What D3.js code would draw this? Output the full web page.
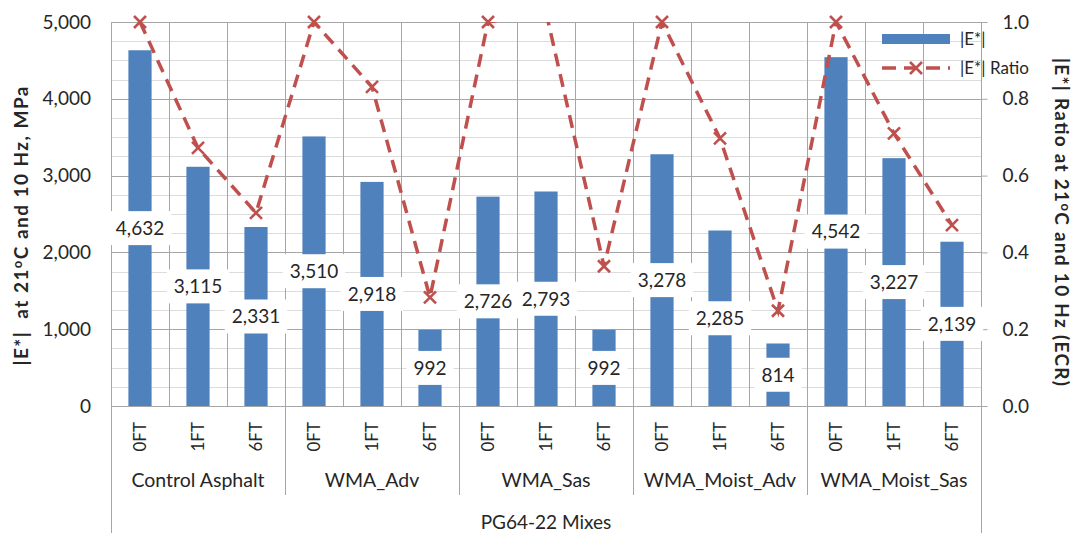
<!DOCTYPE html>
<html>
<head>
<meta charset="utf-8">
<script src="https://cdn.jsdelivr.net/npm/d3@7"></script>
<style>
  body { margin: 0; background: #fff; }
  text { font-family: Lato, "Open Sans", sans-serif; fill: #262626; }
</style>
</head>
<body>
<svg id="chart" width="1075" height="533"></svg>
<script>
// Mix groups and conditioning levels (category axis, two levels)
const groups = ["Control Asphalt", "WMA_Adv", "WMA_Sas", "WMA_Moist_Adv", "WMA_Moist_Sas"];
const conditions = ["0FT", "1FT", "6FT"];
const axisTitleX = "PG64-22 Mixes";

// |E*| at 21°C and 10 Hz (MPa), in group/condition order
const modulus = [4632, 3115, 2331, 3510, 2918, 992, 2726, 2793, 992, 3278, 2285, 814, 4542, 3227, 2139];
// |E*| ratio (ECR) for the same specimens
const ratio = [1.000, 0.672, 0.503, 1.000, 0.831, 0.283, 1.000, 1.025, 0.364, 1.000, 0.697, 0.248, 1.000, 0.710, 0.471];

const leftTicks = [0, 1000, 2000, 3000, 4000, 5000];
const minorStep = 250;
const rightTicks = [0, 0.2, 0.4, 0.6, 0.8, 1.0];

const categories = groups.flatMap(g => conditions.map(c => ({ group: g, cond: c })));

const svg = d3.select("#chart");
const X0 = 111, X1 = 981, Y0 = 22, Y1 = 406;
const FONT = "Lato, 'Open Sans', sans-serif";

const x = d3.scaleBand().domain(d3.range(categories.length)).range([X0, X1])
  .paddingInner(0.6).paddingOuter(0.3);
const yL = d3.scaleLinear().domain([0, 5000]).range([Y1, Y0]);
const yR = d3.scaleLinear().domain([0, 1]).range([Y1, Y0]);
const cx = i => x(i) + x.bandwidth() / 2;
const boundary = i => x(i) + x.bandwidth() / 2 - x.step() / 2;

const major = "#a6a6a6", minor = "#dcdcdc";

// minor horizontal grid
const minorVals = d3.range(0, 5001, minorStep).filter(v => !leftTicks.includes(v));
svg.append("g").selectAll("line").data(minorVals).join("line")
  .attr("x1", X0).attr("x2", X1)
  .attr("y1", d => Math.round(yL(d)) + 0.5).attr("y2", d => Math.round(yL(d)) + 0.5)
  .attr("stroke", minor).attr("stroke-width", 1);

// major horizontal grid
svg.append("g").selectAll("line").data(leftTicks).join("line")
  .attr("x1", X0).attr("x2", X1)
  .attr("y1", d => Math.round(yL(d)) + 0.5).attr("y2", d => Math.round(yL(d)) + 0.5)
  .attr("stroke", major).attr("stroke-width", 1);

// vertical grid at category boundaries, longer at group edges
const bIdx = d3.range(categories.length + 1);
svg.append("g").selectAll("line").data(bIdx).join("line")
  .attr("x1", d => d === categories.length ? X1 + 0.5 : Math.round(boundary(d)) + 0.5)
  .attr("x2", d => d === categories.length ? X1 + 0.5 : Math.round(boundary(d)) + 0.5)
  .attr("y1", Y0).attr("y2", d => {
    if (d === 0 || d === categories.length) return 533;
    if (d % conditions.length === 0) return 495;
    return Y1;
  })
  .attr("stroke", major).attr("stroke-width", 1);

// left axis
const axL = svg.append("g").attr("transform", `translate(${X0},0)`)
  .call(d3.axisLeft(yL).tickValues(leftTicks).tickFormat(d3.format(",")).tickSize(0).tickPadding(20));
axL.select(".domain").remove();
axL.selectAll("text").attr("font-size", 19).attr("font-family", FONT).attr("fill", "#262626");

// right axis
const axR = svg.append("g").attr("transform", `translate(${X1 + 0.5},0)`)
  .call(d3.axisRight(yR).tickValues(rightTicks).tickFormat(d3.format(".1f")).tickSize(6).tickPadding(15));
axR.select(".domain").remove();
axR.selectAll("line").attr("stroke", major);
axR.selectAll("text").attr("font-size", 19).attr("font-family", FONT).attr("fill", "#262626");

// bars
svg.append("g").selectAll("rect").data(modulus).join("rect")
  .attr("x", (d, i) => x(i)).attr("width", x.bandwidth())
  .attr("y", d => yL(d)).attr("height", d => Y1 - yL(d))
  .attr("fill", "#4f81bd");

// ratio line (clipped to plot area)
svg.append("clipPath").attr("id", "plotClip").append("rect")
  .attr("x", X0).attr("y", Y0).attr("width", X1 - X0).attr("height", Y1 - Y0);
const red = "#c0504d";
svg.append("path").datum(ratio)
  .attr("clip-path", "url(#plotClip)")
  .attr("d", d3.line().x((d, i) => cx(i)).y(d => yR(d)))
  .attr("fill", "none").attr("stroke", red).attr("stroke-width", 3.5)
  .attr("stroke-dasharray", "13,8");

// X markers (only those inside the axis range)
function xMarker(sel, s) {
  sel.append("path").attr("d", `M${-s},${-s}L${s},${s}M${-s},${s}L${s},${-s}`)
    .attr("stroke", red).attr("stroke-width", 2.6).attr("fill", "none");
}
svg.append("g").selectAll("g").data(ratio.map((r, i) => ({ r, i })).filter(d => d.r <= 1.0001)).join("g")
  .attr("transform", d => `translate(${cx(d.i)},${yR(d.r)})`)
  .each(function () { xMarker(d3.select(this), 6); });

// data labels centred on each bar
const lbl = svg.append("g").selectAll("g").data(modulus).join("g")
  .attr("transform", (d, i) => `translate(${cx(i)},${yL(d / 2)})`);
lbl.append("rect").attr("fill", "#fff");
lbl.append("text").text(d => d3.format(",")(d))
  .attr("text-anchor", "middle").attr("dy", "0.36em").attr("font-size", 19);
lbl.each(function () {
  const g = d3.select(this);
  const w = g.select("text").node().getComputedTextLength() + 14;
  g.select("rect").attr("x", -w / 2).attr("y", -17).attr("width", w).attr("height", 34);
});

// category labels (level 1)
svg.append("g").selectAll("text").data(categories).join("text")
  .attr("transform", (d, i) => `translate(${cx(i)},422) rotate(-90)`)
  .attr("text-anchor", "end").attr("dy", "0.35em").attr("font-size", 17)
  .text(d => d.cond);

// group labels (level 2)
svg.append("g").selectAll("text").data(groups).join("text")
  .attr("x", (d, gi) => (boundary(gi * 3) + (gi === groups.length - 1 ? X1 : boundary(gi * 3 + 3))) / 2)
  .attr("y", 480).attr("dy", "0.35em").attr("text-anchor", "middle").attr("font-size", 19.5)
  .text(d => d);

svg.append("text").attr("x", (X0 + X1) / 2).attr("y", 522).attr("dy", "0.35em")
  .attr("text-anchor", "middle").attr("font-size", 19).text(axisTitleX);

// axis titles
const tL = svg.append("text").attr("transform", "translate(21,226) rotate(-90)")
  .attr("text-anchor", "middle").attr("dy", "0.35em").attr("font-size", 19).attr("font-weight", "bold")
  .attr("textLength", 279).attr("lengthAdjust", "spacing");
tL.append("tspan").text("|E*|\u00a0 at 21");
tL.append("tspan").attr("font-size", 13).attr("dy", "-6").text("o");
tL.append("tspan").attr("dy", "6").text("C and 10 Hz, MPa");

const tR = svg.append("text").attr("transform", "translate(1062,222) rotate(90)")
  .attr("text-anchor", "middle").attr("dy", "0.35em").attr("font-size", 19).attr("font-weight", "bold")
  .attr("textLength", 328).attr("lengthAdjust", "spacing");
tR.append("tspan").text("|E*| Ratio at 21");
tR.append("tspan").attr("font-size", 13).attr("dy", "-6").text("o");
tR.append("tspan").attr("dy", "6").text("C and 10 Hz (ECR)");

// legend
const lg = svg.append("g");
lg.append("rect").attr("x", 882).attr("y", 34).attr("width", 68).attr("height", 10).attr("fill", "#4f81bd");
lg.append("text").attr("x", 960).attr("y", 39).attr("dy", "0.35em").attr("font-size", 17).text("|E*|");
lg.append("line").attr("x1", 882).attr("x2", 950).attr("y1", 68).attr("y2", 68)
  .attr("stroke", red).attr("stroke-width", 3.5).attr("stroke-dasharray", "14,8");
xMarker(lg.append("g").attr("transform", "translate(916,68)"), 6);
lg.append("text").attr("x", 960).attr("y", 68).attr("dy", "0.35em").attr("font-size", 17).text("|E*| Ratio");
</script>
</body>
</html>
